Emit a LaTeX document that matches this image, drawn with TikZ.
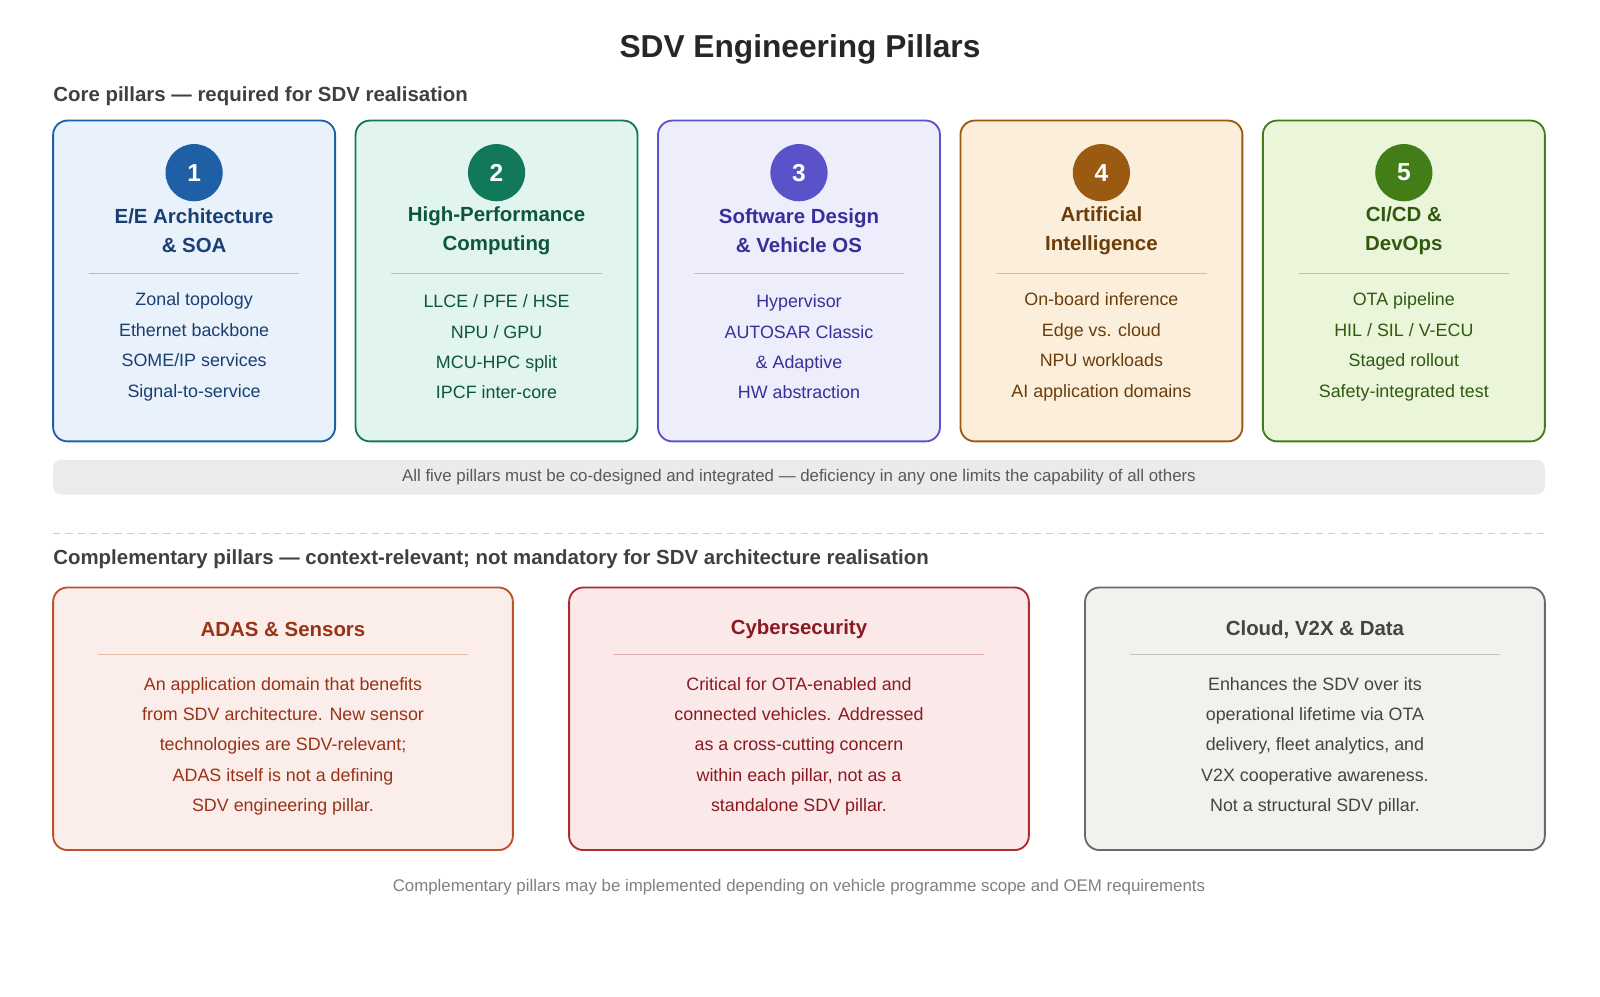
\documentclass[tikz,border=0pt]{standalone}
\usepackage{fontspec}
\setmainfont{Liberation Sans}
\usepackage{xcolor}
\definecolor{bluef}{HTML}{E9F1FB}\definecolor{blued}{HTML}{1F5FA6}\definecolor{bluet}{HTML}{1A3F73}
\definecolor{greenf}{HTML}{E1F5EE}\definecolor{greend}{HTML}{11795A}\definecolor{greent}{HTML}{0D5540}
\definecolor{purpf}{HTML}{EEEDFC}\definecolor{purpd}{HTML}{5A52C8}\definecolor{purpt}{HTML}{3A2F99}
\definecolor{orf}{HTML}{FBEFDC}\definecolor{ord}{HTML}{9A5A12}\definecolor{ort}{HTML}{6B3D08}
\definecolor{limef}{HTML}{EAF5DA}\definecolor{limed}{HTML}{437D18}\definecolor{limet}{HTML}{2F5A10}
\definecolor{adasf}{HTML}{FBEEEA}\definecolor{adasd}{HTML}{C0502A}\definecolor{adast}{HTML}{993318}
\definecolor{cybf}{HTML}{FBE9EA}\definecolor{cybd}{HTML}{B02A30}\definecolor{cybt}{HTML}{8A1A20}
\definecolor{cldf}{HTML}{F2F1EE}\definecolor{cldd}{HTML}{6A6A6A}\definecolor{cldt}{HTML}{444444}

\begin{document}
\begin{tikzpicture}[x=1pt,y=-1pt,
    box/.style={draw=#1d, fill=#1f, line width=1.8pt, rounded corners=14pt},
    num/.style={circle, fill=#1d, minimum size=56pt, inner sep=0pt, text=white, font=\fontsize{24}{28}\selectfont\bfseries},
    ptitle/.style={text=#1t, align=center, font=\fontsize{20}{28}\selectfont\bfseries},
    items/.style={text=#1t, align=center, font=\fontsize{17.5}{29.7}\selectfont},
    rule/.style={draw=#1d!40, line width=1pt}]
    \useasboundingbox (0,0) rectangle (1566,975);

    % headings
    \node[font=\fontsize{31}{36}\selectfont\bfseries, text=black!85] (title) at (783,48) {SDV Engineering Pillars};
    \node[anchor=west, inner sep=0pt, font=\fontsize{20}{24}\selectfont\bfseries, text=black!75] (core) at (52,94) {Core pillars — required for SDV realisation};

    % pillar 1
    \draw[box=blue] (52,118) rectangle (328,432);
    \node[num=blue] (n1) at (190,169) {1};
    \node[ptitle=blue] (t1) at (190,226) {E/E Architecture\\\& SOA};
    \draw[rule=blue] (87,268) -- (293,268);
    \node[items=blue] (i1) at (190,339.5) {Zonal topology\\Ethernet backbone\\SOME/IP services\\Signal-to-service};

    % pillar 2
    \draw[box=green] (348,118) rectangle (624,432);
    \node[num=green] (n2) at (486,169) {2};
    \node[ptitle=green] (t2) at (486,226) {High-Performance\\Computing};
    \draw[rule=green] (383,268) -- (589,268);
    \node[items=green] (i2) at (486,339.5) {LLCE / PFE / HSE\\NPU / GPU\\MCU-HPC split\\IPCF inter-core};

    % pillar 3
    \draw[box=purp] (644,118) rectangle (920,432);
    \node[num=purp] (n3) at (782,169) {3};
    \node[ptitle=purp] (t3) at (782,226) {Software Design\\\& Vehicle OS};
    \draw[rule=purp] (679,268) -- (885,268);
    \node[items=purp] (i3) at (782,339.5) {Hypervisor\\AUTOSAR Classic\\\& Adaptive\\HW abstraction};

    % pillar 4
    \draw[box=or] (940,118) rectangle (1216,432);
    \node[num=or] (n4) at (1078,169) {4};
    \node[ptitle=or] (t4) at (1078,226) {Artificial\\Intelligence};
    \draw[rule=or] (975,268) -- (1181,268);
    \node[items=or] (i4) at (1078,339.5) {On-board inference\\Edge vs. cloud\\NPU workloads\\AI application domains};

    % pillar 5
    \draw[box=lime] (1236,118) rectangle (1512,432);
    \node[num=lime] (n5) at (1374,169) {5};
    \node[ptitle=lime] (t5) at (1374,226) {CI/CD \&\\DevOps};
    \draw[rule=lime] (1271,268) -- (1477,268);
    \node[items=lime] (i5) at (1374,339.5) {OTA pipeline\\HIL / SIL / V-ECU\\Staged rollout\\Safety-integrated test};

    % integration bar
    \fill[black!8, rounded corners=8pt] (52,450) rectangle (1512,484);
    \node[font=\fontsize{16.5}{20}\selectfont, text=black!65] (bar) at (782,467) {All five pillars must be co-designed and integrated — deficiency in any one limits the capability of all others};

    % separator
    \draw[black!20, line width=1.2pt, dash pattern=on 7pt off 5pt] (52,522) -- (1512,522);
    \node[anchor=west, inner sep=0pt, font=\fontsize{20}{24}\selectfont\bfseries, text=black!75] (compl) at (52,547) {Complementary pillars — context-relevant; not mandatory for SDV architecture realisation};

    % ADAS
    \draw[box=adas] (52,575) rectangle (502,832);
    \node[ptitle=adas] (ta) at (277,616) {ADAS \& Sensors};
    \draw[rule=adas] (96,641) -- (458,641);
    \node[items=adas] (ia) at (277,730.5) {An application domain that benefits\\from SDV architecture. New sensor\\technologies are SDV-relevant;\\ADAS itself is not a defining\\SDV engineering pillar.};

    % Cybersecurity
    \draw[box=cyb] (557,575) rectangle (1007,832);
    \node[ptitle=cyb] (tc) at (782,616) {Cybersecurity};
    \draw[rule=cyb] (601,641) -- (963,641);
    \node[items=cyb] (ic) at (782,730.5) {Critical for OTA-enabled and\\connected vehicles. Addressed\\as a cross-cutting concern\\within each pillar, not as a\\standalone SDV pillar.};

    % Cloud
    \draw[box=cld] (1062,575) rectangle (1512,832);
    \node[ptitle=cld] (tv) at (1287,616) {Cloud, V2X \& Data};
    \draw[rule=cld] (1106,641) -- (1468,641);
    \node[items=cld] (iv) at (1287,730.5) {Enhances the SDV over its\\operational lifetime via OTA\\delivery, fleet analytics, and\\V2X cooperative awareness.\\Not a structural SDV pillar.};

    % footer
    \node[font=\fontsize{16.5}{20}\selectfont, text=black!50] (foot) at (782,868) {Complementary pillars may be implemented depending on vehicle programme scope and OEM requirements};
\end{tikzpicture}
\end{document}
